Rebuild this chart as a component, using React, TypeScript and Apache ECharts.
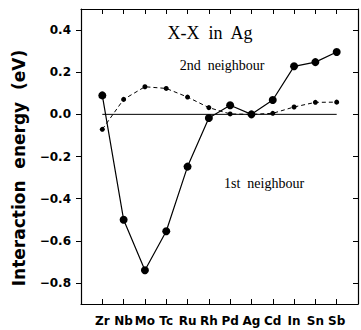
import React, { useEffect, useRef } from "react";
import * as echarts from "echarts";

const categories = ["Zr", "Nb", "Mo", "Tc", "Ru", "Rh", "Pd", "Ag", "Cd", "In", "Sn", "Sb"];
const firstNeighbour = [0.09, -0.5, -0.74, -0.555, -0.248, -0.017, 0.043, 0.0, 0.068, 0.228, 0.248, 0.296];
const secondNeighbour = [-0.071, 0.071, 0.131, 0.123, 0.082, 0.032, 0.002, 0.0, 0.005, 0.035, 0.057, 0.058];
const yTicks = [-0.8, -0.6, -0.4, -0.2, 0, 0.2, 0.4];
const xTicks = categories.map((_, i) => i);
const zeroLine = [[0, 0], [categories.length - 1, 0]];

const sansBold = "'DejaVu Sans', sans-serif";
const serif = "'Liberation Serif', 'Times New Roman', serif";

export default function App() {
  const ref = useRef<HTMLDivElement>(null);
  useEffect(() => {
    if (!ref.current) return;
    const chart = echarts.init(ref.current, undefined, { renderer: "svg" });
    const fmtY = (v: number) => {
      const s = Math.abs(v).toFixed(1);
      return v < -1e-9 ? "\u2212" + s : s;
    };
    const xCommon = {
      type: "value" as const,
      min: -1,
      max: categories.length,
      splitLine: { show: false },
      axisLine: { show: true, onZero: false, lineStyle: { color: "#000", width: 1.2 } },
    };
    const yCommon = {
      type: "value" as const,
      min: -0.9,
      max: 0.5,
      splitLine: { show: false },
      axisLine: { show: true, onZero: false, lineStyle: { color: "#000", width: 1.2 } },
    };
    chart.setOption({
      animation: false,
      backgroundColor: "#fff",
      grid: { left: 81, right: 3, top: 9, bottom: 26, show: false },
      xAxis: [
        {
          ...xCommon,
          position: "bottom",
          axisTick: { show: true, inside: true, length: 5, customValues: xTicks, lineStyle: { color: "#000", width: 1 } },
          axisLabel: {
            show: true,
            customValues: xTicks,
            formatter: (v: number) => categories[Math.round(v)] ?? "",
            color: "#000",
            fontFamily: sansBold,
            fontWeight: "bold",
            fontSize: 12,
            margin: 11,
          },
        },
        {
          ...xCommon,
          position: "top",
          axisTick: { show: true, inside: true, length: 5, customValues: xTicks, lineStyle: { color: "#000", width: 1 } },
          axisLabel: { show: false },
        },
      ],
      yAxis: [
        {
          ...yCommon,
          position: "left",
          axisTick: { show: true, inside: false, length: 5, customValues: yTicks, lineStyle: { color: "#000", width: 1 } },
          axisLabel: {
            show: true,
            customValues: yTicks,
            formatter: fmtY,
            color: "#000",
            fontFamily: sansBold,
            fontWeight: "bold",
            fontSize: 12,
            margin: 10,
          },
        },
        {
          ...yCommon,
          position: "right",
          axisTick: { show: true, inside: true, length: 5, customValues: yTicks, lineStyle: { color: "#000", width: 1 } },
          axisLabel: { show: false },
        },
      ],
      series: [
        {
          type: "line",
          data: zeroLine,
          symbol: "none",
          lineStyle: { color: "#000", width: 1 },
          z: 1,
          silent: true,
        },
        {
          name: "2nd neighbour",
          type: "line",
          data: secondNeighbour.map((v, i) => [i, v]),
          symbol: "circle",
          symbolSize: 5,
          itemStyle: { color: "#000" },
          lineStyle: { color: "#000", width: 1, type: [4, 3] },
          z: 2,
        },
        {
          name: "1st neighbour",
          type: "line",
          data: firstNeighbour.map((v, i) => [i, v]),
          symbol: "circle",
          symbolSize: 8,
          itemStyle: { color: "#000" },
          lineStyle: { color: "#000", width: 1.2 },
          z: 3,
        },
      ],
      graphic: [
        {
          type: "text",
          x: 210,
          y: 33,
          style: { text: "X-X  in  Ag", fontFamily: serif, fontSize: 18, fill: "#000", align: "center", verticalAlign: "middle" },
        },
        {
          type: "text",
          x: 222,
          y: 65,
          style: { text: "2nd  neighbour", fontFamily: serif, fontSize: 14, fill: "#000", align: "center", verticalAlign: "middle" },
        },
        {
          type: "text",
          x: 264,
          y: 183,
          style: { text: "1st  neighbour", fontFamily: serif, fontSize: 14, fill: "#000", align: "center", verticalAlign: "middle" },
        },
        {
          type: "text",
          x: 19,
          y: 168,
          rotation: Math.PI / 2,
          style: {
            text: "Interaction  energy  (eV)",
            fontFamily: sansBold,
            fontWeight: "bold",
            fontSize: 17,
            fill: "#000",
            align: "center",
            verticalAlign: "middle",
          },
        },
      ],
    });
    return () => chart.dispose();
  }, []);
  return <div ref={ref} style={{ position: "fixed", left: 0, top: 0, width: 361, height: 330, background: "#fff" }} />;
}
